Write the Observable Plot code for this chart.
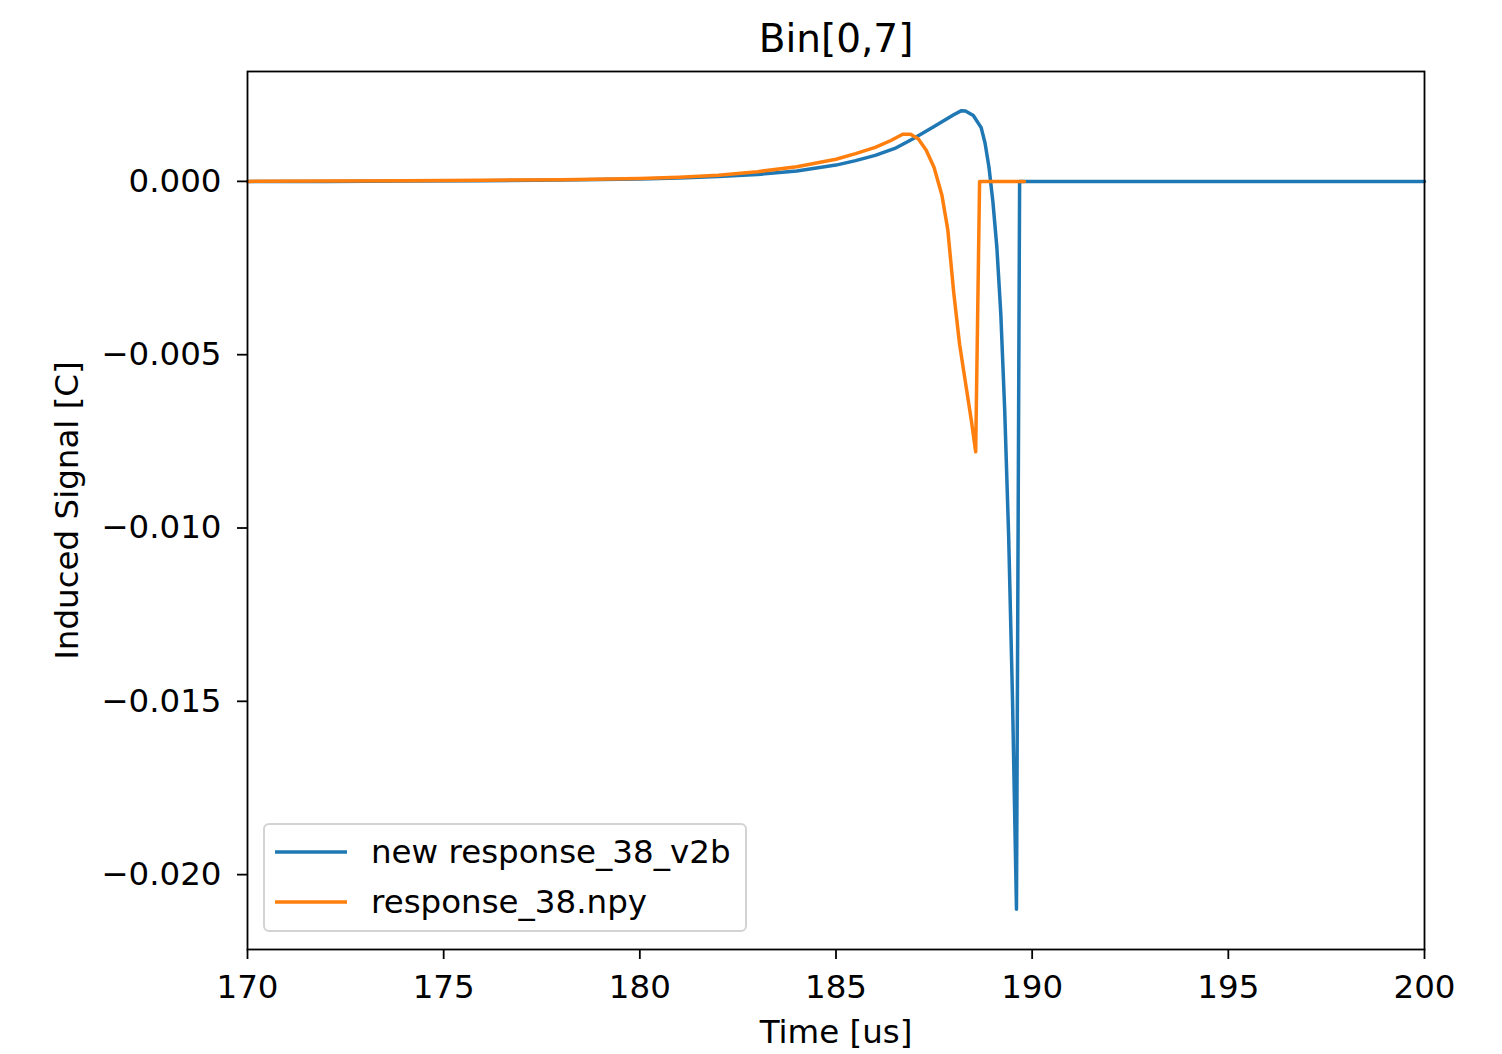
<!DOCTYPE html>
<html>
<head>
<meta charset="utf-8">
<script src="https://cdn.jsdelivr.net/npm/d3@7"></script>
<script src="https://cdn.jsdelivr.net/npm/@observablehq/plot@0.6"></script>
<style>
  html, body { margin: 0; padding: 0; background: #fff; }
  #wrap { position: relative; width: 1502px; height: 1054px; font-family: "DejaVu Sans", sans-serif; }
  #legend {
    position: absolute; left: 263px; top: 823px; width: 484px; height: 109px;
    border: 2px solid #d3d3d3; border-radius: 6px; background: rgba(255,255,255,0.8);
    box-sizing: border-box;
  }
  .row { position: absolute; left: 0; height: 50px; display: flex; align-items: center; }
  .row svg { margin-left: 10px; }
  .row span { margin-left: 24px; font-size: 32.5px; color: #000; }
</style>
</head>
<body>
<div id="wrap"></div>
<script>
// Induced signal of the two response files for Bin[0,7]
const titleText = "Bin[0,7]";
const seriesNames = ["new response_38_v2b", "response_38.npy"];
const seriesColors = ["#1f77b4", "#ff7f0e"];

const blueTime = [170, 172, 174, 176, 178, 180, 181, 182, 183, 184, 185, 185.5, 186, 186.5, 187, 187.5, 188, 188.2, 188.3, 188.5, 188.7, 188.8, 188.9, 189.0, 189.1, 189.2, 189.3, 189.4, 189.5, 189.6, 189.68, 190, 200];
const blueSignal = [0, 0, 0.00001, 0.00002, 0.00004, 0.00007, 0.0001, 0.00014, 0.0002, 0.0003, 0.00047, 0.0006, 0.00075, 0.00095, 0.00125, 0.00158, 0.00192, 0.00204, 0.00203, 0.0019, 0.00155, 0.0011, 0.0004, -0.0006, -0.0019, -0.0038, -0.0066, -0.0102, -0.0150, -0.0210, 0, 0, 0];

const orangeTime = [170, 172, 174, 176, 178, 180, 181, 182, 183, 184, 185, 185.5, 186, 186.4, 186.7, 186.9, 187.1, 187.3, 187.5, 187.7, 187.85, 188.0, 188.15, 188.3, 188.45, 188.56, 188.66, 189.8];
const orangeSignal = [0, 0.00001, 0.00002, 0.00003, 0.00005, 0.00008, 0.00012, 0.00018, 0.00028, 0.00042, 0.00064, 0.0008, 0.00098, 0.00118, 0.00136, 0.00136, 0.00122, 0.0009, 0.0004, -0.0004, -0.0014, -0.0032, -0.0047, -0.0058, -0.0069, -0.0078, 0, 0];

const xTicks = [170, 175, 180, 185, 190, 195, 200];
const yTicks = [0, -0.005, -0.010, -0.015, -0.020];

const blue = blueTime.map((t, i) => ({t, v: blueSignal[i]}));
const orange = orangeTime.map((t, i) => ({t, v: orangeSignal[i]}));

const chart = Plot.plot({
  width: 1502,
  height: 1054,
  marginLeft: 247,
  marginRight: 78,
  marginTop: 71,
  marginBottom: 105,
  style: {fontFamily: "DejaVu Sans, sans-serif", fontSize: "32.5px", color: "#000", background: "#fff"},
  x: {domain: [170, 200]},
  y: {domain: [-0.02216, 0.00317]},
  marks: [
    Plot.line(blue, {x: "t", y: "v", stroke: seriesColors[0], strokeWidth: 3.5}),
    Plot.line(orange, {x: "t", y: "v", stroke: seriesColors[1], strokeWidth: 3.5}),
    Plot.frame({stroke: "#000", strokeWidth: 1.8}),
    Plot.axisX({ticks: xTicks, tickSize: 10, tickPadding: 15, tickFormat: d3.format("d"),
      label: "Time [us]", labelAnchor: "center", labelArrow: "none", labelOffset: 93, strokeWidth: 1.8}),
    Plot.axisY({ticks: yTicks, tickSize: 10, tickPadding: 16, tickFormat: d3.format(".3f"),
      label: "Induced Signal [C]", labelAnchor: "center", labelArrow: "none", labelOffset: 193, strokeWidth: 1.8}),
    Plot.text([titleText], {frameAnchor: "top", lineAnchor: "bottom", dy: -20, fontSize: 39, fill: "#000"})
  ]
});

const wrap = document.getElementById("wrap");
wrap.appendChild(chart);

// legend box
const legend = document.createElement("div");
legend.id = "legend";
seriesNames.forEach((name, i) => {
  const row = document.createElement("div");
  row.className = "row";
  row.style.top = (2 + i * 50) + "px";
  row.innerHTML = `<svg width="72" height="10"><line x1="0" x2="72" y1="5" y2="5" stroke="${seriesColors[i]}" stroke-width="3.5"/></svg><span>${name}</span>`;
  legend.appendChild(row);
});
wrap.appendChild(legend);
</script>
</body>
</html>
